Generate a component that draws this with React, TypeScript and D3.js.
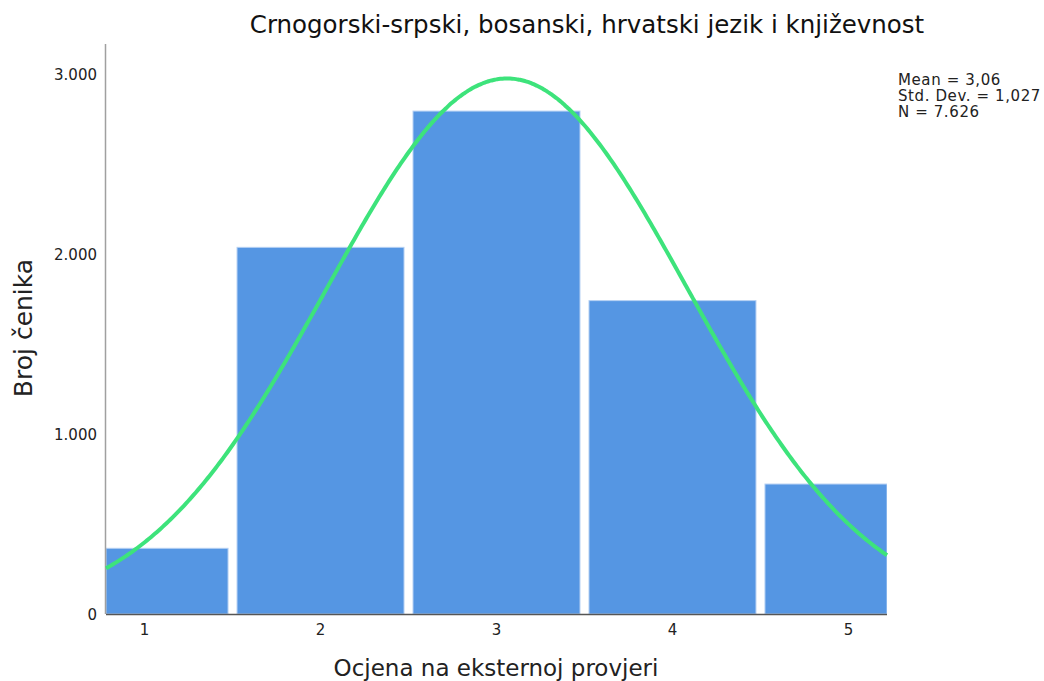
import React from "react";
import * as d3 from "d3";

const title = "Crnogorski-srpski, bosanski, hrvatski jezik i književnost";
const xLabel = "Ocjena na eksternoj provjeri";
const yLabel = "Broj čenika";
const grades = [1, 2, 3, 4, 5];
const counts = [365, 2037, 2794, 1741, 722];
const yTicks = [0, 1000, 2000, 3000];
const yTickLabels = ["0", "1.000", "2.000", "3.000"];
const statMean = 3.06;
const statSd = 1.027;
const statLines = ["Mean = 3,06", "Std. Dev. = 1,027", "N = 7.626"];

const W = 1044;
const H = 681;
const FONT = "'DejaVu Sans', Verdana, sans-serif";

export default function App() {
  const x = d3.scaleLinear().domain([0.781, 5.219]).range([106, 887]);
  const y = d3.scaleLinear().domain([0, 3000]).range([614, 74]);
  const yTop = 44;
  const binW = 1;
  const gap = 4.5;
  const total = d3.sum(counts);
  const [d0, d1] = x.domain();
  const pts = d3.range(0, 401).map((i) => d0 + ((d1 - d0) * i) / 400);
  const pdf = (v: number) =>
    (total * binW * Math.exp(-0.5 * ((v - statMean) / statSd) ** 2)) /
    (statSd * Math.sqrt(2 * Math.PI));
  const line = d3
    .line<number>()
    .x((v) => x(v))
    .y((v) => y(pdf(v)))
    .curve(d3.curveMonotoneX);

  return (
    <div style={{ position: "absolute", left: 0, top: 0 }}>
      <svg width={W} height={H} style={{ display: "block", background: "#fff" }}>
        <text x={587} y={33} textAnchor="middle" fontFamily={FONT} fontSize={24.5} fill="#111">
          {title}
        </text>
        <defs>
          <clipPath id="plot">
            <rect x={x(d0)} y={0} width={x(d1) - x(d0)} height={y(0)} />
          </clipPath>
        </defs>
        <g clipPath="url(#plot)">
          {grades.map((g, i) => {
            const a = Math.max(x(g - binW / 2) + gap, x(d0));
            const b = Math.min(x(g + binW / 2) - gap, x(d1));
            return (
              <rect
                key={g}
                x={a}
                y={y(counts[i])}
                width={b - a}
                height={y(0) - y(counts[i])}
                fill="#5596e3"
                stroke="#b5d0f3"
                strokeWidth={1}
              />
            );
          })}
        </g>
        <line x1={105.5} x2={105.5} y1={yTop} y2={y(0)} stroke="#a0a0a0" strokeWidth={1.5} />
        <line x1={x(d0)} x2={x(d1)} y1={y(0) + 0.5} y2={y(0) + 0.5} stroke="#555" strokeWidth={1.3} />
        <path d={line(pts) || ""} fill="none" stroke="#3de37b" strokeWidth={4} />
        {yTicks.map((t, i) => (
          <text key={t} x={97} y={y(t) + 5.5} textAnchor="end" fontFamily={FONT} fontSize={15} fill="#222">
            {yTickLabels[i]}
          </text>
        ))}
        {grades.map((g) => (
          <text key={g} x={x(g)} y={635} textAnchor="middle" fontFamily={FONT} fontSize={15} fill="#222">
            {String(g)}
          </text>
        ))}
        <text
          transform={`translate(32,328) rotate(-90)`}
          textAnchor="middle"
          fontFamily={FONT}
          fontSize={25}
          fill="#222"
        >
          {yLabel}
        </text>
        <text x={496} y={676} textAnchor="middle" fontFamily={FONT} fontSize={23} fill="#222">
          {xLabel}
        </text>
        {statLines.map((s, i) => (
          <text key={s} x={898} y={85 + i * 16} fontFamily={FONT} fontSize={15} letterSpacing={0.6} fill="#222">
            {s}
          </text>
        ))}
      </svg>
    </div>
  );
}
